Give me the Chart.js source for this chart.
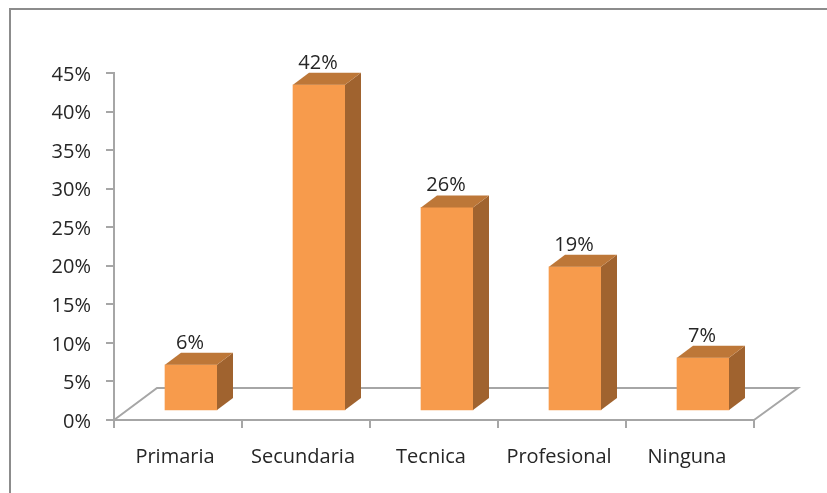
<!DOCTYPE html>
<html>
<head>
<meta charset="utf-8">
<style>
  html, body { margin: 0; padding: 0; background: #fff; overflow: hidden; }
  #wrap { position: relative; width: 827px; height: 493px; }
  #frame { position: absolute; left: 9px; top: 8px; width: 840px; height: 520px; border: 2px solid #8c8c8c; }
  canvas { position: absolute; left: 0; top: 0; filter: blur(0.4px); }
</style>
<script src="https://cdn.jsdelivr.net/npm/chart.js@4/dist/chart.umd.min.js"></script>
</head>
<body>
<div id="wrap">
  <div id="frame"></div>
  <canvas id="cv" width="827" height="493"></canvas>
</div>
<script>
var categories = ["Primaria", "Secundaria", "Tecnica", "Profesional", "Ninguna"];
var values = [6, 42.3, 26.4, 18.7, 6.9];
var axisMax = 45;
var axisStep = 5;

var fontName = "'Open Sans', sans-serif";
var axisColor = "#a6a6a6";
var textColor = "#262626";
var depthX = 16, depthY = 12;   // fake 3d depth
var shiftX = 13, shiftY = -9;   // bars stand inside the floor

// floor of the 3d box, behind the bars
var floorPlugin = {
  id: "floor",
  beforeDatasetsDraw: (chart) => {
    var c = chart.ctx, a = chart.chartArea;
    c.save();
    c.strokeStyle = axisColor;
    c.lineWidth = 2;
    c.beginPath();
    c.moveTo(a.left, a.bottom);
    c.lineTo(a.left + 43, a.bottom - 32);
    c.lineTo(a.right + 44, a.bottom - 32);
    c.lineTo(a.right, a.bottom);
    c.stroke();
    c.restore();
    c.save();
    c.translate(shiftX, shiftY);
  },
  afterDatasetsDraw: (chart) => {
    var c = chart.ctx;
    c.restore();
    // side and top faces, then labels
    chart.getDatasetMeta(0).data.forEach((bar, i) => {
      var l = bar.x - bar.width / 2 + shiftX;
      var r = bar.x + bar.width / 2 + shiftX;
      var t = bar.y + shiftY;
      var b = bar.base + shiftY;
      c.fillStyle = "#a0632f";
      c.beginPath();
      c.moveTo(r, t);
      c.lineTo(r + depthX, t - depthY);
      c.lineTo(r + depthX, b - depthY);
      c.lineTo(r, b);
      c.closePath();
      c.fill();
      c.fillStyle = "#bd7738";
      c.beginPath();
      c.moveTo(l, t);
      c.lineTo(l + depthX, t - depthY);
      c.lineTo(r + depthX, t - depthY);
      c.lineTo(r, t);
      c.closePath();
      c.fill();
      c.fillStyle = textColor;
      c.font = "20px " + fontName;
      c.textAlign = "center";
      c.textBaseline = "alphabetic";
      c.fillText(Math.round(values[i]) + "%", (l + r) / 2 - 1, t - depthY - 4);
    });
  }
};

var chart = new Chart(document.getElementById("cv"), {
  type: "bar",
  plugins: [floorPlugin],
  data: {
    labels: categories,
    datasets: [{
      data: values,
      backgroundColor: "#f79b4c",
      barThickness: 52,
      borderSkipped: false
    }]
  },
  options: {
    responsive: false,
    animation: false,
    layout: { padding: { top: 73, right: 73, left: 0, bottom: 0 } },
    plugins: { legend: { display: false }, tooltip: { enabled: false } },
    scales: {
      x: {
        afterFit: (s) => { s.height = 73; },
        grid: { drawOnChartArea: false, tickLength: 8, color: axisColor, lineWidth: 2 },
        border: { color: axisColor, width: 2 },
        ticks: { color: textColor, font: { family: fontName, size: 20 }, padding: 17, maxRotation: 0, labelOffset: -3 }
      },
      y: {
        min: 0,
        max: axisMax,
        afterFit: (s) => { s.width = 114; },
        grid: { drawOnChartArea: false, tickLength: 8, color: axisColor, lineWidth: 2 },
        border: { color: axisColor, width: 2 },
        ticks: {
          stepSize: axisStep,
          color: textColor,
          font: { family: fontName, size: 20 },
          padding: 15,
          labelOffset: 2,
          callback: (v) => v + "%"
        }
      }
    }
  }
});
</script>
</body>
</html>
